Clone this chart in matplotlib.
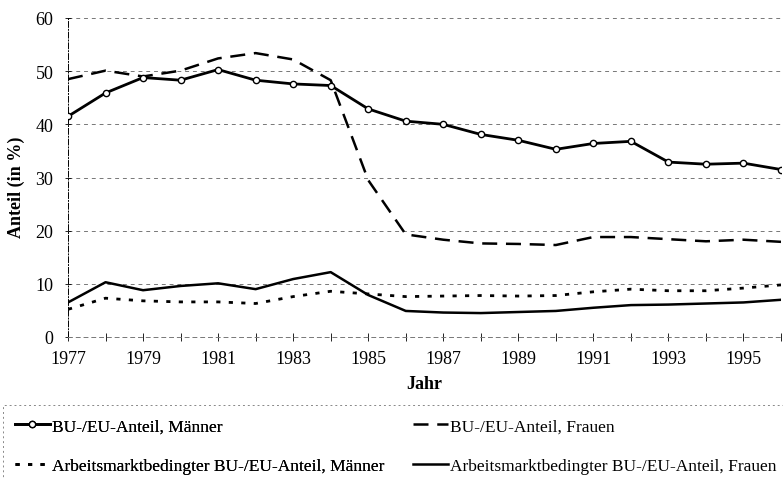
import matplotlib

matplotlib.use("Agg")

import matplotlib.pyplot as plt
from matplotlib.patches import Rectangle
import numpy as np

plt.rcParams["font.family"] = ["Liberation Serif", "DejaVu Serif"]

YEARS = list(range(1977, 1997))
BU_EU_MEN = [41.5, 45.9, 48.8, 48.3, 50.3, 48.3, 47.6, 47.3, 42.9, 40.6,
             40.0, 38.1, 37.0, 35.3, 36.4, 36.8, 32.9, 32.5, 32.7, 31.5]
BU_EU_WOMEN = [48.5, 50.1, 49.0, 50.1, 52.4, 53.4, 52.2, 48.3, 29.5, 19.3,
               18.3, 17.6, 17.5, 17.3, 18.8, 18.8, 18.4, 18.0, 18.3, 17.9]
LABOUR_MEN = [5.2, 7.3, 6.8, 6.6, 6.6, 6.3, 7.6, 8.6, 8.1, 7.6,
              7.7, 7.8, 7.7, 7.8, 8.5, 9.0, 8.7, 8.7, 9.2, 9.8]
LABOUR_WOMEN = [6.5, 10.3, 8.8, 9.6, 10.1, 9.0, 10.9, 12.2, 7.9, 4.9,
                4.6, 4.5, 4.7, 4.9, 5.5, 6.0, 6.1, 6.3, 6.5, 7.0]
SERIES_LABELS = [
    "BU-/EU-Anteil, Männer",
    "BU-/EU-Anteil, Frauen",
    "Arbeitsmarktbedingter BU-/EU-Anteil, Männer",
    "Arbeitsmarktbedingter BU-/EU-Anteil, Frauen",
]
Y_TICKS = [0, 10, 20, 30, 40, 50, 60]
X_TICK_LABELS = [str(y) if (y - 1977) % 2 == 0 else "" for y in YEARS]

W, H = 783, 481
fig = plt.figure(figsize=(W / 100, H / 100), dpi=100)
ax = fig.add_axes([68 / W, 1 - 338 / H, (781 - 68) / W, (338 - 19) / H])

years = np.array(YEARS)
h_men, = ax.plot(years, BU_EU_MEN, color="black", lw=2.0, marker="o", ms=4.5,
                 mfc="white", mec="black", mew=1.0, zorder=4)
h_women, = ax.plot(years, BU_EU_WOMEN, color="black", lw=1.8, ls=(0, (6, 3.5)), zorder=3)
h_lab_men, = ax.plot(years, LABOUR_MEN, color="black", lw=2.0, ls=(0, (1.5, 3)), zorder=3)
h_lab_women, = ax.plot(years, LABOUR_WOMEN, color="black", lw=1.8, zorder=3)

ax.set_xlim(1977, 1996)
ax.set_ylim(0, 60)
ax.set_yticks(Y_TICKS)
ax.set_xticks(YEARS)
ax.set_xticklabels(X_TICK_LABELS)
ax.tick_params(axis="both", labelsize=13, colors="black")
ax.tick_params(axis="x", direction="inout", length=6, width=0.6, pad=6)
ax.tick_params(axis="y", direction="inout", length=5, width=0.6, pad=8)
ax.grid(axis="y", color="#777777", lw=0.7, ls=(0, (4, 4)))
for side in ["top", "right"]:
    ax.spines[side].set_visible(False)
ax.spines["left"].set_linewidth(0.7)
ax.spines["left"].set_linestyle((0, (6, 2, 1, 2)))
ax.spines["bottom"].set_linewidth(0.7)
ax.spines["bottom"].set_color("#777777")
ax.spines["bottom"].set_linestyle((0, (4, 4)))
ax.axvline(1996, color="#999999", lw=0.7, ls=(0, (2, 3)))

ax.set_ylabel("Anteil (in %)", fontsize=13, fontweight="bold")
ax.yaxis.set_label_coords(-0.06, 0.473)
ax.set_xlabel("Jahr", fontsize=13, fontweight="bold")
ax.xaxis.set_label_coords(0.5, -0.119)

# two single-column legends so each column sits where it should
legend_kw = dict(
    loc="upper left",
    fontsize=12.5,
    frameon=False,
    handlelength=2.0,
    handletextpad=0.15,
    labelspacing=1.35,
    borderpad=0,
    borderaxespad=0,
)
leg_left = fig.legend([h_men, h_lab_men], [SERIES_LABELS[0], SERIES_LABELS[2]],
                      bbox_to_anchor=(15 / W, 1 - 419 / H), **legend_kw)
fig.legend([h_women, h_lab_women], [SERIES_LABELS[1], SERIES_LABELS[3]],
           bbox_to_anchor=(413 / W, 1 - 419 / H), **legend_kw)
fig.add_artist(leg_left)

fig.add_artist(Rectangle((3 / W, -0.05), 1.0, (1 - 406 / H) + 0.05,
                         transform=fig.transFigure, fill=False,
                         edgecolor="#888888", lw=0.7, ls=(0, (2, 3))))

fig.savefig("out.png", dpi=100)
